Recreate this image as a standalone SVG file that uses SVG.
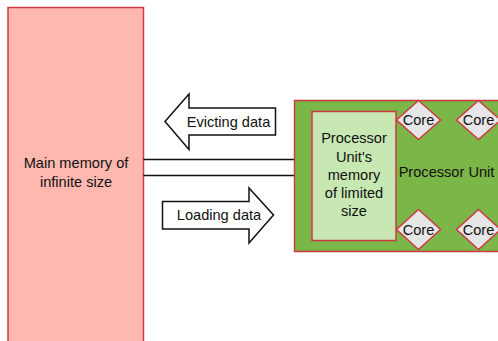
<svg xmlns="http://www.w3.org/2000/svg" width="498" height="341" viewBox="0 0 498 341">
  <style>
    text { font-family: "Liberation Sans", Arial, sans-serif; font-size: 14.6px; fill: #111; text-anchor: middle; dominant-baseline: central; }
    .mem { fill: #ffb8b0; stroke: #d03844; stroke-width: 1.5; }
    .unit { fill: #7ab648; stroke: #d03844; stroke-width: 1.5; }
    .local { fill: #c7e8b2; stroke: #d03844; stroke-width: 1.5; }
    .core { fill: #e6e6e6; stroke: #d03844; stroke-width: 1.5; }
    .bus { stroke: #111; stroke-width: 1.5; fill: none; }
    .flow { fill: #fff; stroke: #111; stroke-width: 1.5; stroke-linejoin: miter; }
  </style>

  <g id="main-memory">
    <rect class="mem" x="8" y="7.5" width="135.5" height="345"/>
    <text x="76" y="163">Main memory of</text>
    <text x="76" y="182">infinite size</text>
  </g>

  <g id="connectors">
    <line class="bus" x1="143.5" y1="159.5" x2="294" y2="159.5"/>
    <line class="bus" x1="143.5" y1="175.5" x2="294" y2="175.5"/>
  </g>

  <g id="evicting-data">
    <polygon class="flow" points="165,121.5 189,94 189,108 275.5,108 275.5,135 189,135 189,149.5"/>
    <text x="228.5" y="121.5">Evicting data</text>
  </g>

  <g id="loading-data">
    <polygon class="flow" points="162.5,201.5 249,201.5 249,188 273.5,215 249,243 249,229 162.5,229"/>
    <text x="219" y="215">Loading data</text>
  </g>

  <g id="processor-unit">
    <rect class="unit" x="294.5" y="100.5" width="220" height="151"/>
    <text x="446.5" y="172">Processor Unit</text>
  </g>

  <g id="processor-memory">
    <rect class="local" x="312" y="111.5" width="84" height="129"/>
    <text x="354" y="138">Processor</text>
    <text x="354" y="156.5">Unit's</text>
    <text x="354" y="175">memory</text>
    <text x="354" y="192.5">of limited</text>
    <text x="354" y="211">size</text>
  </g>

  <g id="core-1">
    <polygon class="core" points="418.5,100.5 440.5,120 418.5,139.5 396.5,120"/>
    <text x="418.5" y="120">Core</text>
  </g>
  <g id="core-2">
    <polygon class="core" points="478.5,100.5 500.5,120 478.5,139.5 456.5,120"/>
    <text x="478.5" y="120">Core</text>
  </g>
  <g id="core-3">
    <polygon class="core" points="418.5,209.5 440.5,229.5 418.5,249.5 396.5,229.5"/>
    <text x="418.5" y="229.5">Core</text>
  </g>
  <g id="core-4">
    <polygon class="core" points="478.5,209.5 500.5,229.5 478.5,249.5 456.5,229.5"/>
    <text x="478.5" y="229.5">Core</text>
  </g>
</svg>
